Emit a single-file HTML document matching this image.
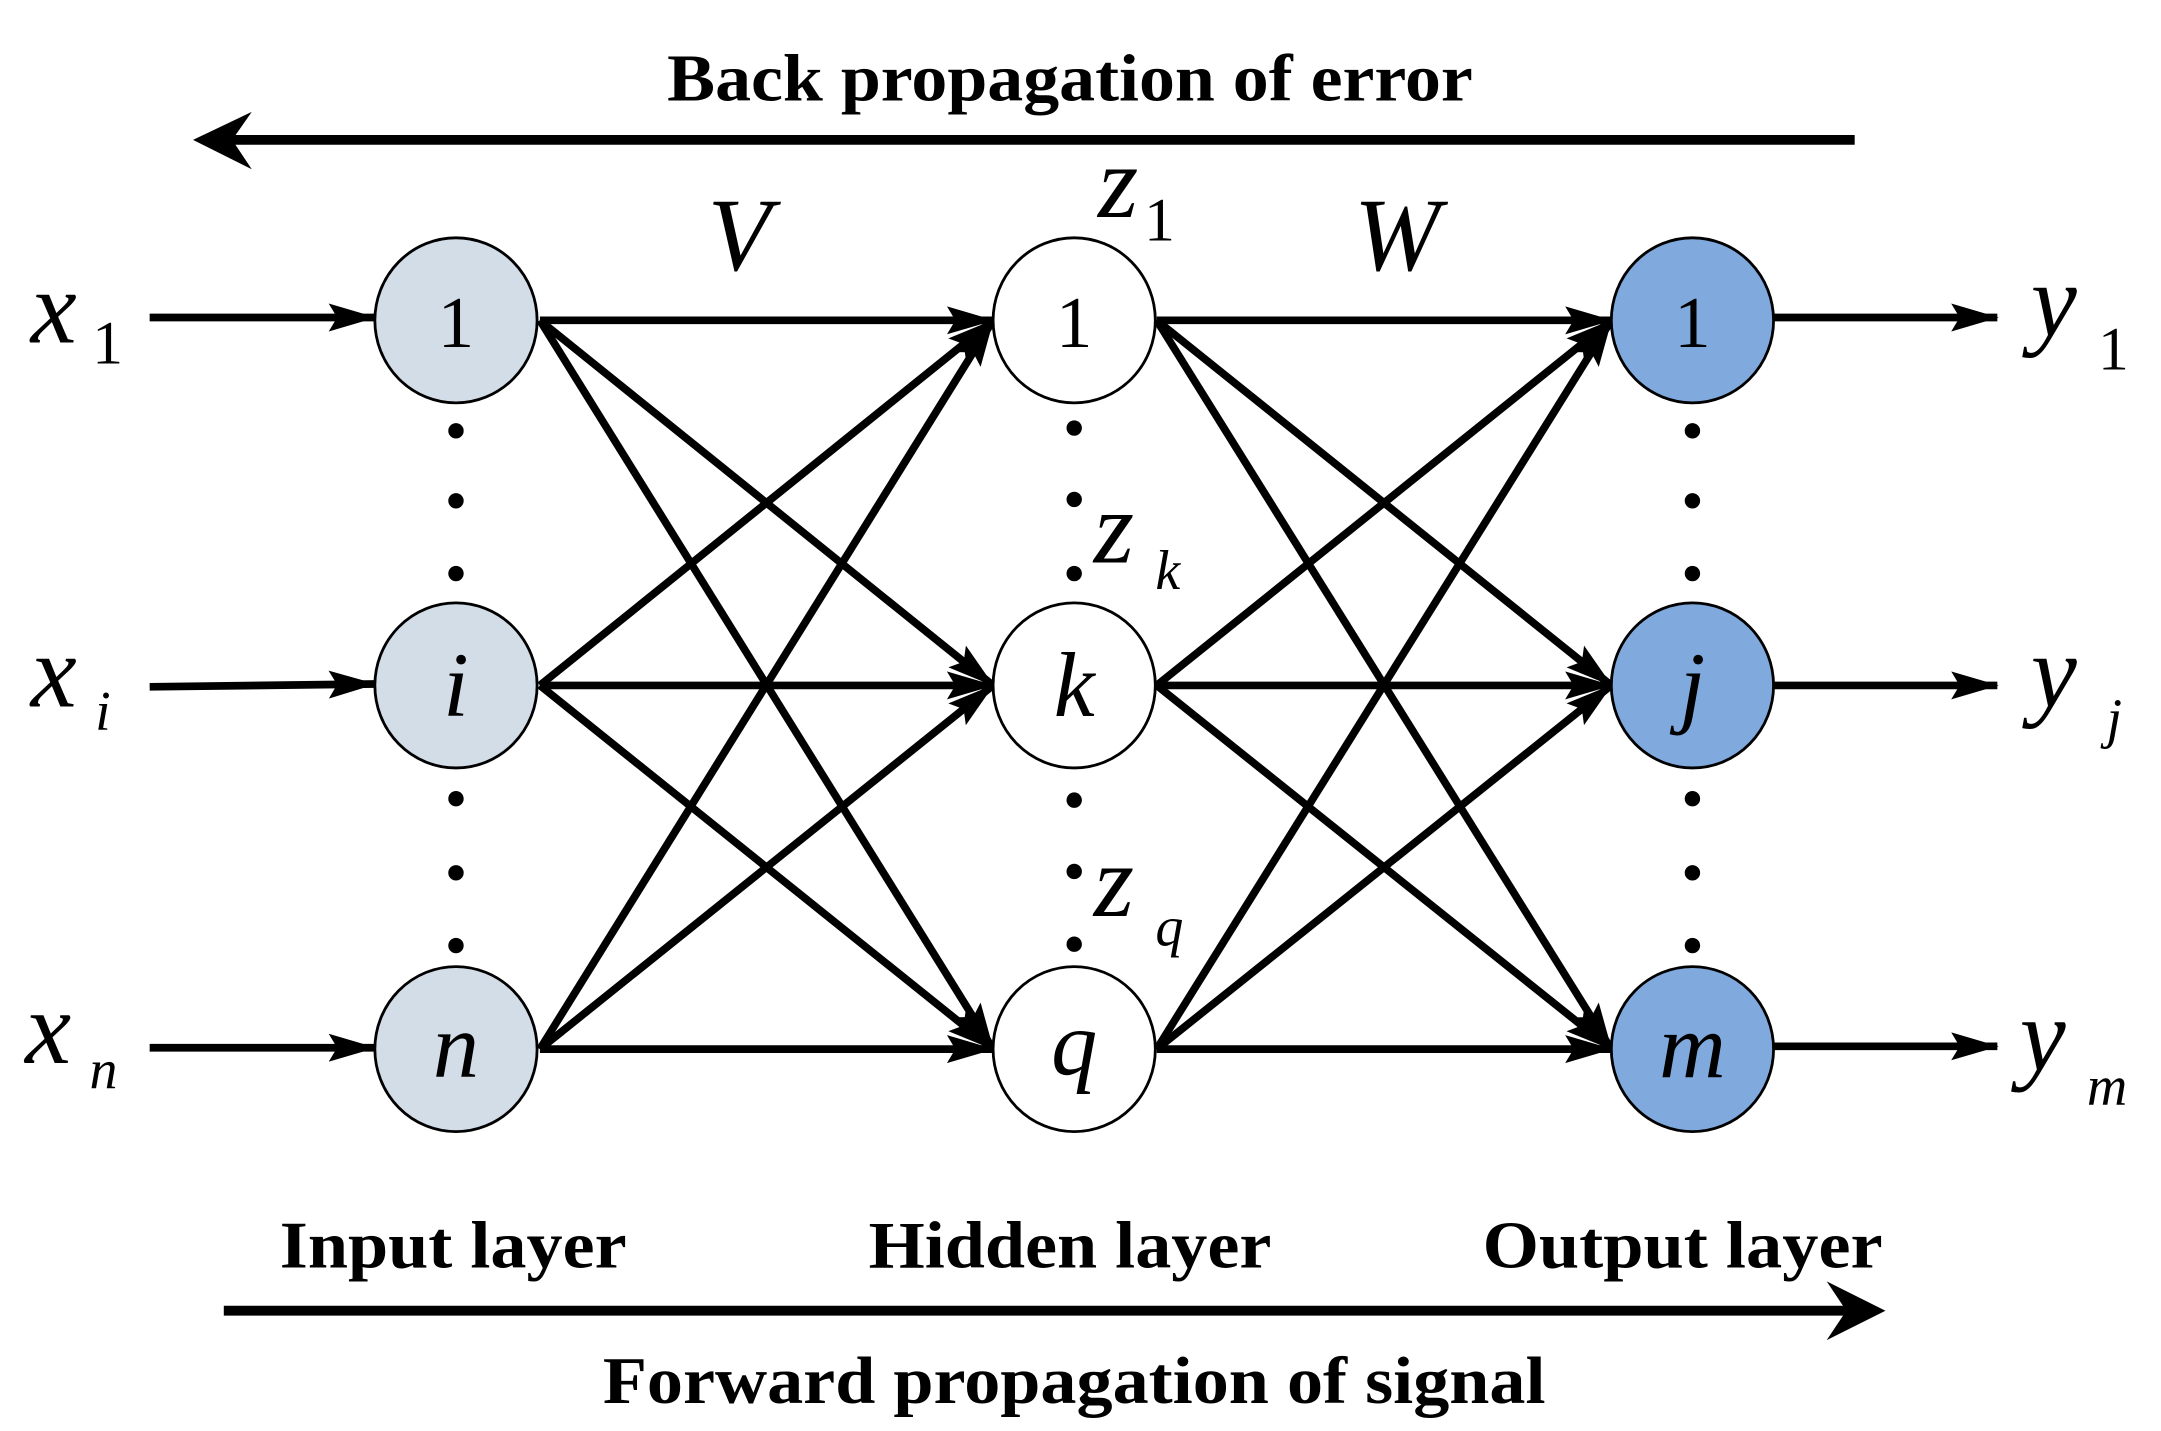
<!DOCTYPE html>
<html><head><meta charset="utf-8"><style>
html,body{margin:0;padding:0;background:#fff;}
svg{display:block;}
text{font-family:"Liberation Serif",serif;fill:#000;}
.b{font-weight:bold;font-size:48px;}
.i{font-style:italic;font-size:74px;}
.ni{font-style:italic;font-size:66px;}
.s{font-style:italic;font-size:40px;}
.n{font-size:52px;}
.sn{font-size:44px;}
</style></head><body>
<svg width="2161" height="1431" viewBox="0 0 1545 1023" preserveAspectRatio="none" xmlns="http://www.w3.org/2000/svg">
<defs>
<marker id="a2" markerWidth="34" markerHeight="20" refX="33" refY="10" orient="auto" markerUnits="userSpaceOnUse" viewBox="0 0 34 20">
<path d="M0,0 L34,10 L0,20 L6,10 z" fill="#000"/>
</marker>
</defs>
<text class="b" x="765" y="72" text-anchor="middle" textLength="576" lengthAdjust="spacingAndGlyphs">Back propagation of error</text>
<line x1="1326" y1="100" x2="145" y2="100" stroke="#000" stroke-width="7"/>
<path d="M138,100 L180,80 L166,100 L180,121 Z" fill="#000"/>
<line x1="160" y1="937" x2="1340" y2="937" stroke="#000" stroke-width="7"/>
<path d="M1348,937 L1306,916 L1320,937 L1306,958 Z" fill="#000"/>
<text class="b" x="324" y="906" text-anchor="middle" textLength="248" lengthAdjust="spacingAndGlyphs">Input layer</text>
<text class="b" x="765" y="906" text-anchor="middle" textLength="288" lengthAdjust="spacingAndGlyphs">Hidden layer</text>
<text class="b" x="1203" y="906" text-anchor="middle" textLength="286" lengthAdjust="spacingAndGlyphs">Output layer</text>
<text class="b" x="768" y="1003" text-anchor="middle" textLength="674" lengthAdjust="spacingAndGlyphs">Forward propagation of signal</text>

<g stroke="#000" stroke-width="5.5" fill="none" marker-end="url(#a2)">
<line x1="107" y1="227" x2="268" y2="227"/>
<line x1="107" y1="491" x2="268" y2="489"/>
<line x1="107" y1="749" x2="268" y2="749"/>
<line x1="1268" y1="227" x2="1428" y2="227"/>
<line x1="1268" y1="490" x2="1428" y2="490"/>
<line x1="1268" y1="748" x2="1428" y2="748"/>
<line x1="386" y1="229" x2="710" y2="229"/>
<line x1="386" y1="229" x2="710" y2="490"/>
<line x1="386" y1="229" x2="710" y2="750"/>
<line x1="386" y1="490" x2="710" y2="229"/>
<line x1="386" y1="490" x2="710" y2="490"/>
<line x1="386" y1="490" x2="710" y2="750"/>
<line x1="386" y1="750" x2="710" y2="229"/>
<line x1="386" y1="750" x2="710" y2="490"/>
<line x1="386" y1="750" x2="710" y2="750"/>
<line x1="827" y1="229" x2="1152" y2="229"/>
<line x1="827" y1="229" x2="1152" y2="490"/>
<line x1="827" y1="229" x2="1152" y2="750"/>
<line x1="827" y1="490" x2="1152" y2="229"/>
<line x1="827" y1="490" x2="1152" y2="490"/>
<line x1="827" y1="490" x2="1152" y2="750"/>
<line x1="827" y1="750" x2="1152" y2="229"/>
<line x1="827" y1="750" x2="1152" y2="490"/>
<line x1="827" y1="750" x2="1152" y2="750"/>
</g>

<g stroke="#000" stroke-width="2">
<ellipse cx="326" cy="229" rx="58" ry="59" fill="#d3dde8"/>
<ellipse cx="326" cy="490" rx="58" ry="59" fill="#d3dde8"/>
<ellipse cx="326" cy="750" rx="58" ry="59" fill="#d3dde8"/>
<ellipse cx="768" cy="229" rx="58" ry="59" fill="#fff"/>
<ellipse cx="768" cy="490" rx="58" ry="59" fill="#fff"/>
<ellipse cx="768" cy="750" rx="58" ry="59" fill="#fff"/>
<ellipse cx="1210" cy="229" rx="58" ry="59" fill="#80aade"/>
<ellipse cx="1210" cy="490" rx="58" ry="59" fill="#80aade"/>
<ellipse cx="1210" cy="750" rx="58" ry="59" fill="#80aade"/>
</g>
<g text-anchor="middle">
<text class="n" x="326" y="248">1</text>
<text class="ni" x="326" y="512">i</text>
<text class="ni" x="326" y="770">n</text>
<text class="n" x="768" y="248">1</text>
<text class="ni" x="768" y="512">k</text>
<text class="ni" x="768" y="768">q</text>
<text class="n" x="1210" y="248">1</text>
<text class="ni" x="1210" y="512">j</text>
<text class="ni" x="1210" y="770">m</text>
</g>

<g fill="#000">
<circle cx="326" cy="308" r="5.5"/><circle cx="326" cy="358" r="5.5"/><circle cx="326" cy="410" r="5.5"/>
<circle cx="326" cy="571" r="5.5"/><circle cx="326" cy="624" r="5.5"/><circle cx="326" cy="676" r="5.5"/>
<circle cx="768" cy="306" r="5.5"/><circle cx="768" cy="357" r="5.5"/><circle cx="768" cy="410" r="5.5"/>
<circle cx="768" cy="572" r="5.5"/><circle cx="768" cy="623" r="5.5"/><circle cx="768" cy="675" r="5.5"/>
<circle cx="1210" cy="308" r="5.5"/><circle cx="1210" cy="358" r="5.5"/><circle cx="1210" cy="410" r="5.5"/>
<circle cx="1210" cy="571" r="5.5"/><circle cx="1210" cy="624" r="5.5"/><circle cx="1210" cy="676" r="5.5"/>
</g>

<text class="i" x="22" y="245">x</text><text class="sn" x="66" y="260">1</text>
<text class="i" x="22" y="505">x</text><text class="s" x="68" y="522">i</text>
<text class="i" x="18" y="760">x</text><text class="s" x="64" y="778">n</text>
<text class="i" x="1452" y="240">y</text><text class="sn" x="1500" y="264">1</text>
<text class="i" x="1452" y="505">y</text><text class="s" x="1506" y="527">j</text>
<text class="i" x="1444" y="765">y</text><text class="s" x="1492" y="790">m</text>
<text class="i" x="506" y="193">V</text>
<text class="i" x="968" y="193">W</text>
<text class="i" x="785" y="155">z</text><text class="sn" x="818" y="172">1</text>
<text class="i" x="782" y="402">z</text><text class="s" x="826" y="421">k</text>
<text class="i" x="782" y="655">z</text><text class="s" x="826" y="676">q</text>
</svg>
</body></html>
